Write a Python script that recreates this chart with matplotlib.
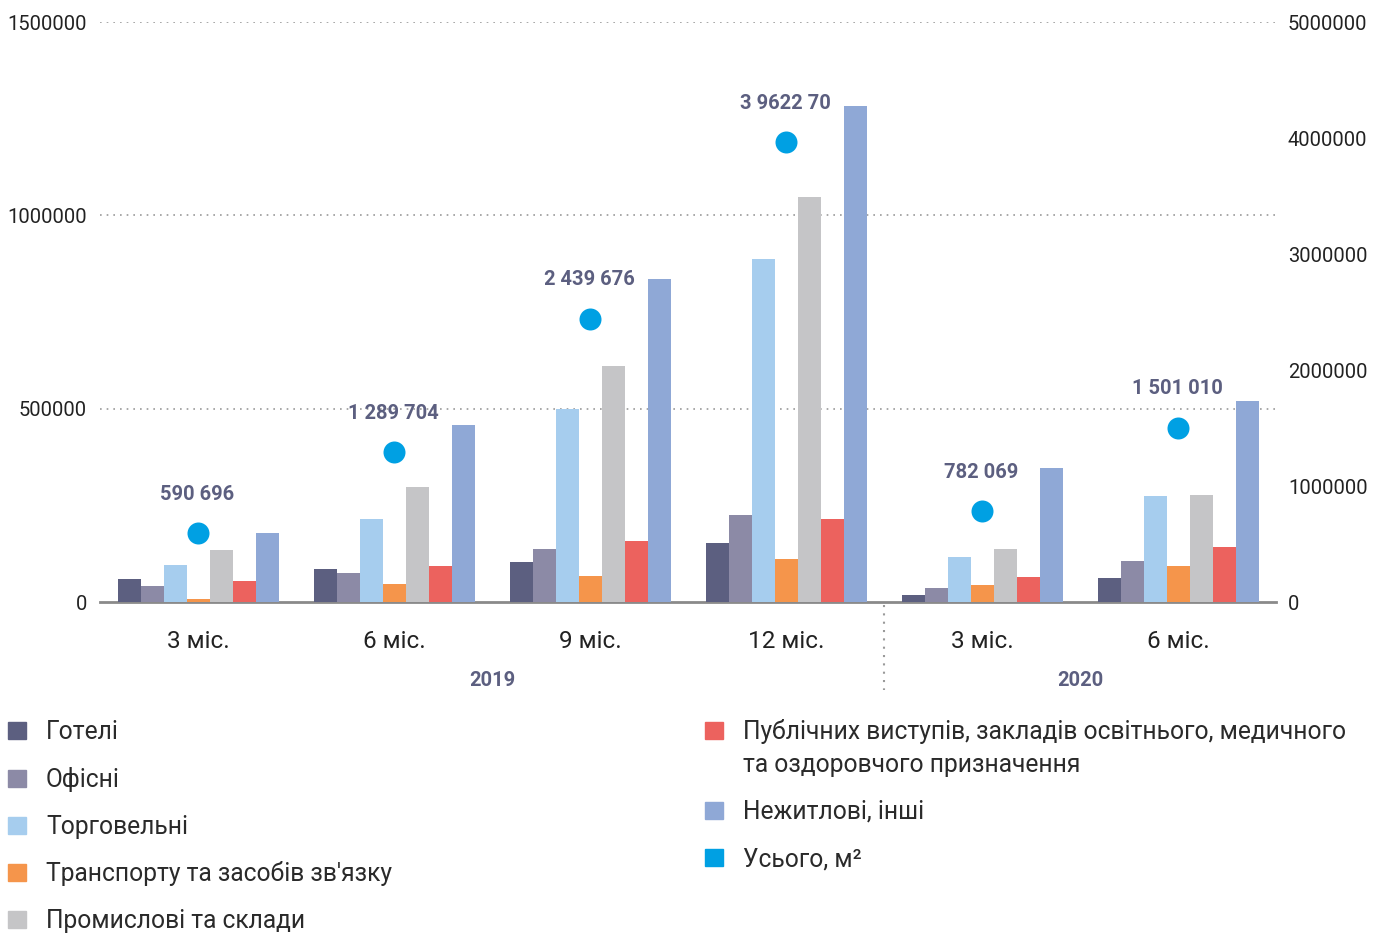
import matplotlib
matplotlib.use("Agg")
import matplotlib.pyplot as plt
from matplotlib.patches import Rectangle
from matplotlib.lines import Line2D
import numpy as np

plt.rcParams['font.family'] = ['Roboto', 'DejaVu Sans']

categories = ["3 міс.", "6 міс.", "9 міс.", "12 міс.", "3 міс.", "6 міс."]
years = ["2019", "2020"]
year_groups = [4, 2]

series_names = ["Готелі", "Офісні", "Торговельні", "Транспорту та засобів зв'язку",
                "Промислові та склади",
                "Публічних виступів, закладів освітнього, медичного\nта оздоровчого призначення",
                "Нежитлові, інші"]
hotels = [59500, 85300, 103400, 152600, 18100, 62100]
offices = [41400, 75000, 137000, 225000, 36200, 106000]
trade = [95700, 214600, 499100, 887000, 116400, 274100]
transport = [7800, 46500, 67200, 111200, 44000, 93100]
industrial = [134500, 297400, 610300, 1047300, 137000, 276700]
public = [54300, 93100, 157700, 214600, 64600, 142200]
nonresidential = [178400, 457700, 835300, 1282600, 346500, 519800]
total = [590696, 1289704, 2439676, 3962270, 782069, 1501010]
total_labels = ["590 696", "1 289 704", "2 439 676", "3 9622 70", "782 069", "1 501 010"]
total_name = "Усього, м²"

colors = ["#5c5f80", "#8c8aa6", "#a6cdee", "#f5954b", "#c5c5c7", "#ec625e", "#8fa8d6"]
total_color = "#00a0e3"
label_color = "#5c5f80"

W, H = 1383, 934
PX = 72 / 100  # points per pixel
fig = plt.figure(figsize=(W / 100, H / 100), dpi=100)
ax = fig.add_axes([100 / W, 1 - 602 / H, 1176 / W, 580 / H])
ax2 = ax.twinx()

x = np.arange(len(categories))
bw = 23 / 196
all_series = [hotels, offices, trade, transport, industrial, public, nonresidential]
for i, (vals, c) in enumerate(zip(all_series, colors)):
    ax.bar(x + (i - 3) * bw, vals, width=bw, color=c, zorder=3)

ax.set_xlim(-0.5, len(categories) - 0.5)
ax.set_ylim(0, 1500000)
ax.set_yticks([0, 500000, 1000000, 1500000])
ax.set_yticklabels(["0", "500000", "1000000", "1500000"])
for v in [500000, 1000000, 1500000]:
    ax.axhline(v, color="#9a9a9a", lw=1.2, ls=(0, (1, 3)), zorder=1)

ax2.set_ylim(0, 5000000)
ax2.set_yticks([0, 1000000, 2000000, 3000000, 4000000, 5000000])
ax2.set_yticklabels(["0", "1000000", "2000000", "3000000", "4000000", "5000000"])
ax2.scatter(x, total, s=(22 * PX) ** 2, color=total_color, zorder=5, linewidths=0)
for xi, v, lab in zip(x, total, total_labels):
    ax2.annotate(lab, (xi, v), xytext=(-1 * PX, 39 * PX), textcoords="offset points",
                 ha="center", va="center", fontsize=14.5, fontweight="bold",
                 color=label_color)

for a in (ax, ax2):
    for s in a.spines.values():
        s.set_visible(False)
    a.tick_params(length=0, labelsize=14.5, labelcolor="#222222")
ax.tick_params(axis="y", pad=13 * PX)
ax2.tick_params(axis="y", pad=12 * PX)
ax.spines["bottom"].set_visible(True)
ax.spines["bottom"].set_color("#8a8a8a")
ax.spines["bottom"].set_linewidth(2)
ax.set_xticks(x)
ax.set_xticklabels(categories, fontsize=17.5, color="#222222")
ax.tick_params(axis="x", pad=28 * PX)

# year labels and separator
start = 0
for yr, n in zip(years, year_groups):
    center = start + (n - 1) / 2
    ax.annotate(yr, xy=(center, 0), xycoords=("data", "axes fraction"),
                xytext=(0, -78 * PX), textcoords="offset points", ha="center", va="center",
                fontsize=14.5, fontweight="bold", color=label_color)
    start += n
ax.add_line(Line2D([year_groups[0] - 0.5] * 2, [-3 / 580, -88 / 580], transform=ax.get_xaxis_transform(),
                   clip_on=False, color="#9a9a9a", lw=1.5, ls=(0, (1, 3))))

# legend
LFS = 17.7
def legend_item(px, py, color, text):
    fig.patches.append(Rectangle((px / W, 1 - (py + 8.5) / H), 18 / W, 17 / H,
                                 transform=fig.transFigure, color=color, figure=fig))
    fig.text((px + 38) / W, 1 - (py + 2) / H, text, fontsize=LFS, color="#2a2a2a",
             va="center", ha="left")

left_rows = [730, 778, 825, 872, 919]
for i in range(5):
    legend_item(8, left_rows[i], colors[i], series_names[i])
legend_item(705, 730, colors[5], series_names[5].split("\n")[0])
fig.text(743 / W, 1 - 765 / H, series_names[5].split("\n")[1], fontsize=LFS,
         color="#2a2a2a", va="center", ha="left")
legend_item(705, 810, colors[6], series_names[6])
legend_item(705, 857, total_color, total_name)

fig.savefig("out.png", dpi=100)
